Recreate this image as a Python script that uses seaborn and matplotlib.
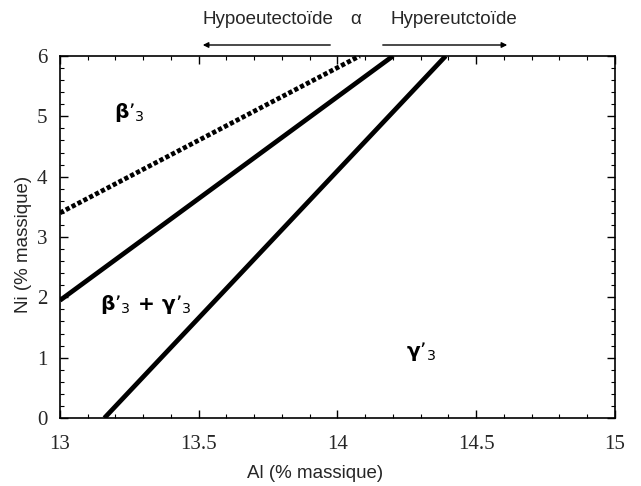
import matplotlib
matplotlib.use("Agg")
import matplotlib.pyplot as plt
import seaborn as sns
import pandas as pd
from matplotlib.ticker import MultipleLocator

sns.set_style("white")

# Data: boundary lines (Al %, Ni %)
dotted_al = [13.0, 14.08]
dotted_ni = [3.4, 6.0]
mid_al = [13.0, 14.2]
mid_ni = [1.95, 6.0]
right_al = [13.16, 14.39]
right_ni = [0.0, 6.0]

x_ticks = [13, 13.5, 14, 14.5, 15]
x_labels = ["13", "13.5", "14", "14.5", "15"]
y_ticks = [0, 1, 2, 3, 4, 5, 6]

fig = plt.figure(figsize=(6.41, 4.86), dpi=100)
ax = fig.add_axes([0.0936, 0.1399, 0.8658, 0.7449])

df_mid = pd.DataFrame({"Al": mid_al, "Ni": mid_ni})
df_right = pd.DataFrame({"Al": right_al, "Ni": right_ni})
df_dot = pd.DataFrame({"Al": dotted_al, "Ni": dotted_ni})

sns.lineplot(data=df_mid, x="Al", y="Ni", ax=ax, color="black", linewidth=3.4, solid_capstyle="butt")
sns.lineplot(data=df_right, x="Al", y="Ni", ax=ax, color="black", linewidth=3.4, solid_capstyle="butt")
sns.lineplot(data=df_dot, x="Al", y="Ni", ax=ax, color="black", linewidth=3.4)
ax.lines[-1].set_dashes([0.9, 0.5])

ax.set_xlim(13, 15)
ax.set_ylim(0, 6)
ax.set_xticks(x_ticks)
ax.set_xticklabels(x_labels)
ax.set_yticks(y_ticks)
ax.xaxis.set_minor_locator(MultipleLocator(0.1))
ax.yaxis.set_minor_locator(MultipleLocator(0.2))
ax.tick_params(which="both", direction="in", top=True, right=True, bottom=True, left=True, color="black")
ax.tick_params(which="major", length=6, width=1)
ax.tick_params(which="minor", length=3, width=0.8)
for lab in ax.get_xticklabels() + ax.get_yticklabels():
    lab.set_fontfamily("Liberation Serif")
    lab.set_fontsize(15)
ax.tick_params(axis="x", pad=12)
ax.tick_params(axis="y", pad=9)
for s in ax.spines.values():
    s.set_color("black")
    s.set_linewidth(1.2)

ax.set_xlabel("Al (% massique)", fontfamily="Liberation Sans", fontsize=13.5)
ax.xaxis.set_label_coords((315 - 60) / 555, -(465 - 418) / 362)
ax.set_ylabel("Ni (% massique)", fontfamily="Liberation Sans", fontsize=13.5)
ax.yaxis.set_label_coords(-(60 - 32) / 555, 0.48)

tkw = dict(fontfamily="DejaVu Sans", fontsize=14.5, fontweight="bold", color="black")
ax.text(13.25, 5.07, "β’$_{3}$", ha="center", va="center", **tkw)
ax.text(13.31, 1.88, "β’$_{3}$ + γ’$_{3}$", ha="center", va="center", **tkw)
ax.text(14.3, 1.1, "γ’$_{3}$", ha="center", va="center", **tkw)

# Top annotations in figure coordinates
tt = dict(ha="center", va="center", fontfamily="Liberation Sans", fontsize=13.5)
fig.text(268/641, 1-20/486, "Hypoeutectoïde", **tt)
fig.text(356/641, 1-20/486, "α", **tt)
fig.text(454/641, 1-20/486, "Hypereutctoïde", **tt)
fig.add_artist(matplotlib.patches.FancyArrowPatch((333/641, 1-45/486), (200/641, 1-45/486),
               transform=fig.transFigure, arrowstyle="-|>", mutation_scale=8, color="black", lw=1))
fig.add_artist(matplotlib.patches.FancyArrowPatch((380/641, 1-45/486), (510/641, 1-45/486),
               transform=fig.transFigure, arrowstyle="-|>", mutation_scale=8, color="black", lw=1))

fig.savefig("out.png", dpi=100)
